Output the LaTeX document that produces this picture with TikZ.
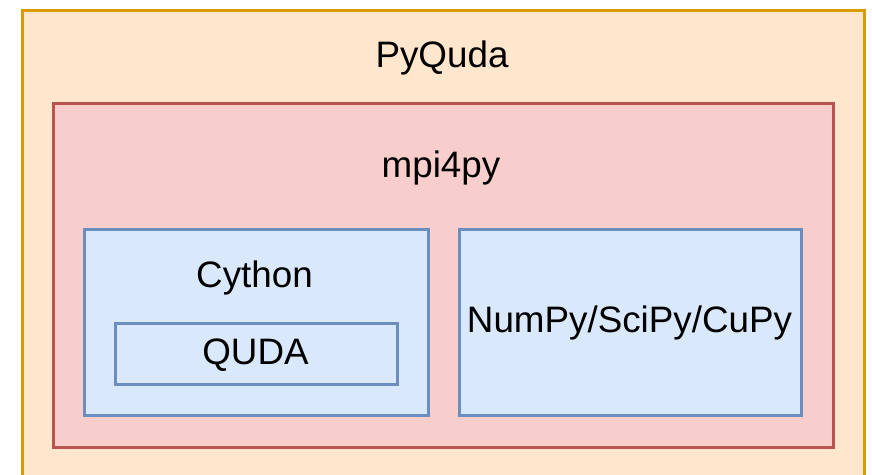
\documentclass[tikz,border=0pt]{standalone}
\usepackage{fontspec}
\setmainfont{Liberation Sans}
\usetikzlibrary{positioning}

\definecolor{pyfill}{HTML}{FFE6CC}
\definecolor{pydraw}{HTML}{D79B00}
\definecolor{mpifill}{HTML}{F8CECC}
\definecolor{mpidraw}{HTML}{B85450}
\definecolor{cyfill}{HTML}{DAE8FC}
\definecolor{cydraw}{HTML}{6C8EBF}

\tikzset{
  layer/.style={draw, line width=3pt, inner sep=0pt},
  pybox/.style={layer, fill=pyfill, draw=pydraw},
  mpibox/.style={layer, fill=mpifill, draw=mpidraw},
  cybox/.style={layer, fill=cyfill, draw=cydraw},
  lbl/.style={anchor=base, inner sep=0pt, font=\fontsize{36.8}{44}\selectfont}
}

\begin{document}
\begin{tikzpicture}[x=1pt,y=-1pt]
	\useasboundingbox (0,0) rectangle (872,474);
	\clip (0,0) rectangle (872,474);
	\node[pybox, minimum width=842pt, minimum height=500pt] (pyquda) at (443.5,260) {};
	\node[mpibox, minimum width=780pt, minimum height=344pt] (mpi) at (443,275) {};
	\node[cybox, minimum width=344pt, minimum height=186pt] (cython) at (256.25,322) {};
	\node[cybox, minimum width=342.5pt, minimum height=186pt] (numpy) at (630.25,322) {};
	\node[cybox, minimum width=281.5pt, minimum height=61pt] (quda) at (256.25,353.5) {};

	\node[lbl] (pyquda text) at (442,67) {PyQuda};
	\node[lbl] (mpi text) at (441,177) {mpi4py};
	\node[lbl] (cython text) at (254.5,287) {Cython};
	\node[lbl] (quda text) at (255.5,364) {QUDA};
	\node[lbl] (numpy text) at (629.5,332) {NumPy/SciPy/CuPy};
\end{tikzpicture}
\end{document}
